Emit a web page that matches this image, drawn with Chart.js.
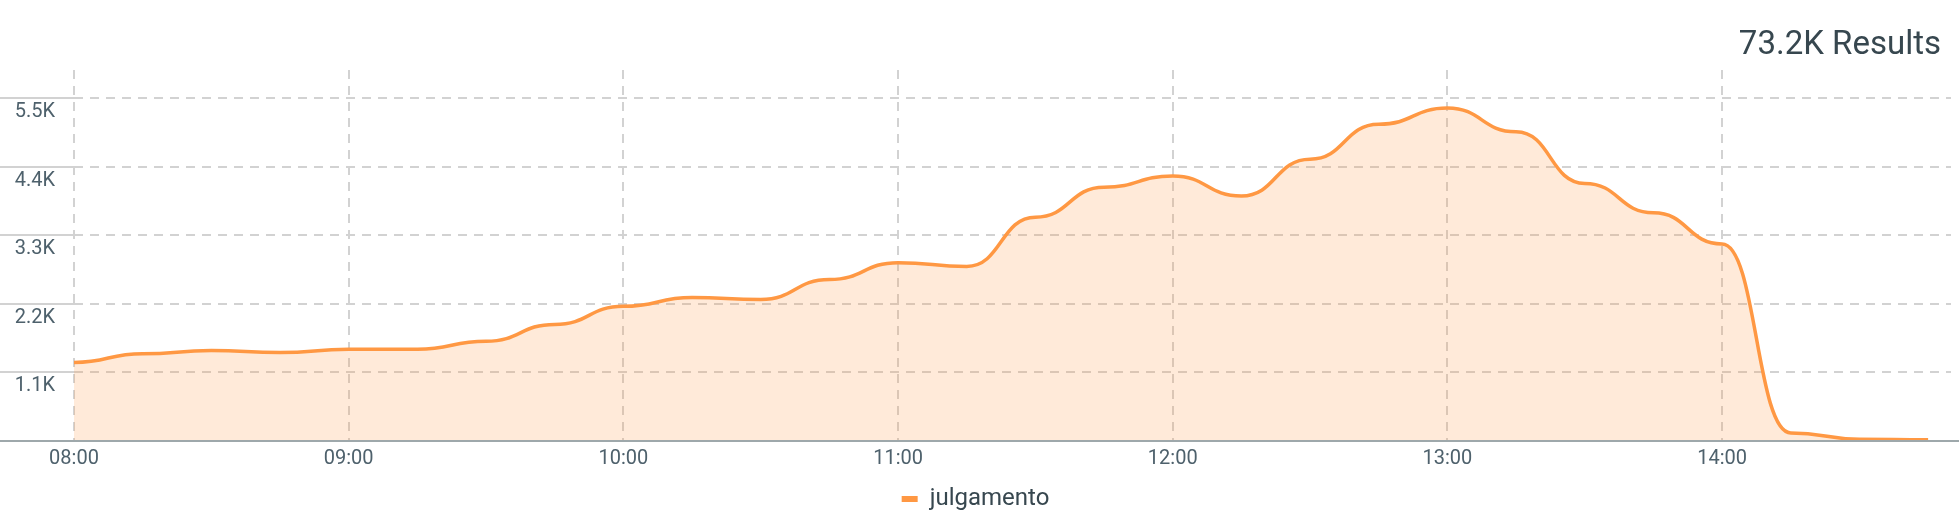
<!DOCTYPE html>
<html lang="en">
<head>
  <meta charset="UTF-8" />
  <title>julgamento</title>
  <script src="https://cdn.jsdelivr.net/npm/chart.js"></script>
  <style>
    body { margin: 0; background: #fff; font-family: Roboto, sans-serif; }
    .wrap { position: relative; width: 1959px; height: 521px; }
    #total { position: absolute; right: 18px; top: 26px; font-size: 33px; line-height: 33px; color: #37474f; }
  </style>
</head>
<body>
  <div class="wrap">
    <div id="total">73.2K Results</div>
    <canvas id="chart" width="1959" height="521"></canvas>
  </div>

  <script>
    const seriesName = 'julgamento';
    const times = ['08:00', '08:15', '08:30', '08:45', '09:00', '09:15', '09:30', '09:45',
                   '10:00', '10:15', '10:30', '10:45', '11:00', '11:15', '11:30', '11:45',
                   '12:00', '12:15', '12:30', '12:45', '13:00', '13:15', '13:30', '13:45',
                   '14:00', '14:15', '14:30', '14:45'];
    const results = [1260, 1400, 1450, 1420, 1470, 1470, 1600, 1870,
                     2160, 2300, 2270, 2590, 2860, 2800, 3590, 4070,
                     4250, 3930, 4520, 5080, 5340, 4960, 4130, 3660,
                     3160, 130, 30, 20];
    const hourLabels = ['08:00', '09:00', '10:00', '11:00', '12:00', '13:00', '14:00'];
    const yTickValues = [1100, 2200, 3300, 4400, 5500];

    const orange = '#ff9843';
    const gridColor = '#d2d2d2';
    const textColor = '#4e616c';

    // minutes since 08:00, for the linear x axis
    const toMin = t => {
      const [h, m] = t.split(':').map(Number);
      return (h - 8) * 60 + m;
    };
    const points = times.map((t, i) => ({ x: toMin(t), y: results[i] }));

    // horizontal tangents at every point (the "bump" look of the original)
    const bump = {
      id: 'bump',
      beforeDatasetsDraw(chart) {
        chart.getSortedVisibleDatasetMetas().forEach(meta => {
          meta.dataset.updateControlPoints(chart.chartArea);
          const pts = meta.data;
          pts.forEach((p, i) => {
            const prev = pts[i - 1], next = pts[i + 1];
            if (prev) { p.cp1x = (prev.x + p.x) / 2; p.cp1y = p.y; }
            if (next) { p.cp2x = (p.x + next.x) / 2; p.cp2y = p.y; }
          });
          meta.dataset._path = undefined;
        });
      }
    };

    // axis line runs the full width of the picture
    const baseline = {
      id: 'baseline',
      afterDatasetsDraw(chart) {
        const y = chart.scales.y.getPixelForValue(0);
        const ctx = chart.ctx;
        ctx.save();
        ctx.strokeStyle = '#9ea8ab';
        ctx.lineWidth = 2;
        ctx.beginPath();
        ctx.moveTo(0, y);
        ctx.lineTo(chart.width, y);
        ctx.stroke();
        ctx.restore();
      }
    };

    new Chart(document.getElementById('chart'), {
      type: 'line',
      data: {
        datasets: [{
          label: seriesName,
          data: points,
          borderColor: orange,
          backgroundColor: 'rgba(255, 152, 67, 0.2)',
          borderWidth: 3.5,
          pointRadius: 0,
          fill: 'origin',
          tension: 0.4
        }]
      },
      options: {
        responsive: false,
        animation: false,
        layout: { padding: { top: 70, right: 8 } },
        scales: {
          x: {
            type: 'linear',
            min: 0,
            max: 410,
            afterBuildTicks: s => { s.ticks = hourLabels.map((l, i) => ({ value: i * 60 })); },
            ticks: {
              padding: 6,
              color: textColor,
              font: { family: 'Roboto', size: 20 },
              callback: v => hourLabels[Math.round(v / 60)]
            },
            grid: { color: gridColor, lineWidth: 2, drawTicks: false },
            border: { display: false, dash: [9, 7] }
          },
          y: {
            min: 0,
            max: 5950,
            afterBuildTicks: s => { s.ticks = yTickValues.map(v => ({ value: v })); },
            afterFit: s => { s.width = 74; },
            ticks: {
              padding: -55,
              labelOffset: 14,
              color: textColor,
              font: { family: 'Roboto', size: 20 },
              callback: v => (v / 1000).toFixed(1) + 'K'
            },
            grid: { color: gridColor, lineWidth: 2, drawTicks: true, tickLength: 74 },
            border: { display: false, dash: [9, 7] }
          }
        },
        plugins: {
          legend: {
            position: 'bottom',
            labels: {
              boxWidth: 16,
              boxHeight: 6,
              padding: 10,
              color: '#37474f',
              font: { family: 'Roboto', size: 24 },
              generateLabels: chart => Chart.defaults.plugins.legend.labels.generateLabels(chart)
                .map(l => ({ ...l, fillStyle: orange, strokeStyle: orange, lineWidth: 0 }))
            }
          },
          tooltip: { enabled: false }
        }
      },
      plugins: [bump, baseline]
    });
  </script>
</body>
</html>
